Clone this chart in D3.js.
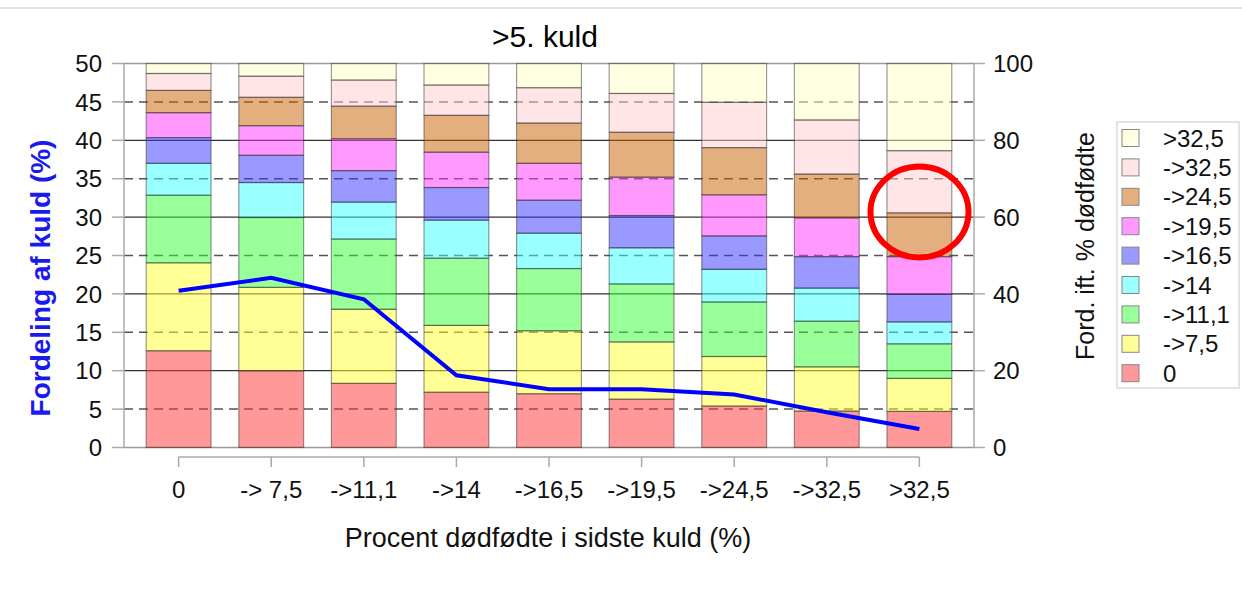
<!DOCTYPE html>
<meta charset="utf-8">
<style>
  body { margin: 0; background: #fff; }
  svg { font-family: "Liberation Sans", Arial, sans-serif; }
  .tick-label { font-size: 24px; fill: #111; }
  .grid-solid { stroke: #333; stroke-width: 1.2; }
  .grid-dash { stroke: #555; stroke-width: 1.5; stroke-dasharray: 9,6; }
  .grid-edge { stroke: #999; stroke-width: 1.5; }
  .axis-line { stroke: #aaa; stroke-width: 1.5; fill: none; }
</style>
<svg width="1242" height="609"></svg>
<script src="https://d3js.org/d3.v7.min.js"></script>
<script>

var categories = ["0", "-> 7,5", "->11,1", "->14", "->16,5", "->19,5", "->24,5", "->32,5", ">32,5"];
var seriesNames = ["0", "->7,5", "->11,1", "->14", "->16,5", "->19,5", "->24,5", "->32,5", ">32,5"];
var seriesColors = ["#ff3333", "#ffff2d", "#33ff33", "#33ffff", "#3333ff", "#ff33ff", "#c75f00", "#ffcbcb", "#ffffc5"];

// share of litters (% of 100) per stillbirth class, bottom to top
var s0 = [25.2, 20.0, 16.7, 14.4, 14.0, 12.6, 10.8, 9.5, 9.4];
var s1 = [22.9, 21.7, 19.3, 17.4, 16.4, 14.9, 12.9, 11.5, 8.6];
var s2 = [17.6, 18.2, 18.3, 17.5, 16.2, 15.1, 14.2, 11.9, 9.0];
var s3 = [8.3, 9.1, 9.6, 9.9, 9.2, 9.4, 8.5, 8.6, 5.7];
var s4 = [6.7, 7.1, 8.2, 8.5, 8.6, 8.4, 8.7, 8.2, 7.2];
var s5 = [6.5, 7.7, 8.3, 9.2, 9.6, 10.0, 10.7, 10.1, 9.8];
var s6 = [5.8, 7.4, 8.5, 9.6, 10.5, 11.7, 12.3, 11.4, 11.4];
var s7 = [4.4, 5.5, 6.8, 7.9, 9.2, 10.1, 11.8, 14.1, 16.2];
var s8 = [2.6, 3.3, 4.3, 5.6, 6.3, 7.8, 10.1, 14.7, 22.7];

// distribution of litters (left axis)
var lineValues = [20.4, 22.1, 19.3, 9.4, 7.6, 7.6, 6.9, 4.6, 2.4];

var leftTicks = [0, 5, 10, 15, 20, 25, 30, 35, 40, 45, 50];
var rightTicks = [0, 20, 40, 60, 80, 100];

var svg = d3.select("svg");

var plotLeft = 124, plotRight = 974, plotTop = 63.5, plotBottom = 447.5;

var x = d3.scaleBand()
    .domain(categories)
    .range([plotLeft, plotRight])
    .paddingInner(0.3)
    .paddingOuter(0.24);
var yL = d3.scaleLinear().domain([0, 50]).range([plotBottom, plotTop]);
var yR = d3.scaleLinear().domain([0, 100]).range([plotBottom, plotTop]);

// top rule
svg.append("line")
    .attr("x1", 0).attr("x2", 1242).attr("y1", 8).attr("y2", 8)
    .attr("stroke", "#d8d8d8").attr("stroke-width", 1.5);

// grid
svg.append("g").selectAll("line")
    .data(leftTicks)
    .enter().append("line")
    .attr("class", function(d) {
      if (d == 0 || d == 50) return "grid-edge";
      return d % 10 == 0 ? "grid-solid" : "grid-dash";
    })
    .attr("x1", plotLeft).attr("x2", plotRight)
    .attr("y1", function(d) { return yL(d); })
    .attr("y2", function(d) { return yL(d); });

// left axis
var gl = svg.append("g");
gl.append("line").attr("class", "axis-line")
    .attr("x1", plotLeft).attr("x2", plotLeft).attr("y1", yL(50)).attr("y2", yL(0));
gl.selectAll(".tk").data(leftTicks).enter().append("line")
    .attr("class", "axis-line")
    .attr("x1", plotLeft - 12).attr("x2", plotLeft)
    .attr("y1", function(d) { return yL(d); })
    .attr("y2", function(d) { return yL(d); });
gl.selectAll("text").data(leftTicks).enter().append("text")
    .attr("class", "tick-label")
    .attr("x", 102)
    .attr("y", function(d) { return yL(d); })
    .attr("dy", "0.36em")
    .attr("text-anchor", "end")
    .text(function(d) { return d; });

// right axis
var gr = svg.append("g");
gr.append("line").attr("class", "axis-line")
    .attr("x1", plotRight).attr("x2", plotRight).attr("y1", yR(100)).attr("y2", yR(0));
gr.selectAll(".tk").data(rightTicks).enter().append("line")
    .attr("class", "axis-line")
    .attr("x1", plotRight).attr("x2", plotRight + 11)
    .attr("y1", function(d) { return yR(d); })
    .attr("y2", function(d) { return yR(d); });
gr.selectAll("text").data(rightTicks).enter().append("text")
    .attr("class", "tick-label")
    .attr("x", 993)
    .attr("y", function(d) { return yR(d); })
    .attr("dy", "0.36em")
    .text(function(d) { return d; });

// stacked bars
var seriesData = [s0, s1, s2, s3, s4, s5, s6, s7, s8];
var table = categories.map(function(c, i) {
  var row = { cat: c };
  seriesData.forEach(function(s, k) { row[k] = s[i]; });
  return row;
});
var stack = d3.stack().keys(d3.range(seriesData.length))(table);

svg.append("g").selectAll("g")
    .data(stack)
    .enter().append("g")
    .attr("fill", function(d, k) { return seriesColors[k]; })
    .selectAll("rect")
    .data(function(d) { return d; })
    .enter().append("rect")
    .attr("x", function(d) { return x(d.data.cat); })
    .attr("width", x.bandwidth())
    .attr("y", function(d) { return yR(d[1]); })
    .attr("height", function(d) { return yR(d[0]) - yR(d[1]); })
    .attr("fill-opacity", 0.5)
    .attr("stroke", "#222")
    .attr("stroke-opacity", 0.45)
    .attr("stroke-width", 1.2);

// line
var line = d3.line()
    .x(function(d, i) { return x(categories[i]) + x.bandwidth() / 2; })
    .y(function(d) { return yL(d); });
svg.append("path")
    .datum(lineValues)
    .attr("d", line)
    .attr("fill", "none")
    .attr("stroke", "#0000ff")
    .attr("stroke-width", 4);

// x axis (separate ruler below plot)
var cx = function(c) { return x(c) + x.bandwidth() / 2; };
var gx = svg.append("g");
gx.append("line").attr("class", "axis-line")
    .attr("x1", cx(categories[0])).attr("x2", cx(categories[categories.length - 1]))
    .attr("y1", 457).attr("y2", 457);
gx.selectAll(".tk").data(categories).enter().append("line")
    .attr("class", "axis-line")
    .attr("x1", cx).attr("x2", cx)
    .attr("y1", 457).attr("y2", 467);
gx.selectAll("text").data(categories).enter().append("text")
    .attr("class", "tick-label")
    .attr("x", cx)
    .attr("y", 498)
    .attr("text-anchor", "middle")
    .text(function(d) { return d; });

// titles
svg.append("text")
    .attr("x", 545).attr("y", 47)
    .attr("text-anchor", "middle")
    .style("font-size", "30px")
    .text(">5. kuld");
svg.append("text")
    .attr("x", 548).attr("y", 547)
    .attr("text-anchor", "middle")
    .style("font-size", "27px")
    .attr("fill", "#111")
    .text("Procent dødfødte i sidste kuld (%)");
svg.append("text")
    .attr("transform", "translate(40,278) rotate(-90)")
    .attr("text-anchor", "middle")
    .attr("dy", "0.36em")
    .style("font-size", "28px")
    .style("font-weight", "bold")
    .attr("fill", "#1a1aee")
    .text("Fordeling af kuld (%)");
svg.append("text")
    .attr("transform", "translate(1085,246) rotate(-90)")
    .attr("text-anchor", "middle")
    .attr("dy", "0.36em")
    .style("font-size", "25px")
    .attr("fill", "#111")
    .text("Ford. ift. % dødfødte");

// legend
var lg = svg.append("g");
lg.append("rect")
    .attr("x", 1117).attr("y", 122).attr("width", 122).attr("height", 266)
    .attr("fill", "#fff").attr("stroke", "#d0d0d0").attr("stroke-width", 1.2);
var legendOrder = d3.range(seriesNames.length).reverse();
var li = lg.selectAll(".item").data(legendOrder).enter().append("g")
    .attr("transform", function(d, i) { return "translate(1122," + (138 + i * 29.4) + ")"; });
li.append("rect")
    .attr("x", 0).attr("y", -8.5).attr("width", 17).attr("height", 17)
    .attr("fill", function(k) { return seriesColors[k]; })
    .attr("fill-opacity", 0.5)
    .attr("stroke", "#888").attr("stroke-width", 1);
li.append("text")
    .attr("class", "tick-label")
    .attr("x", 41)
    .attr("dy", "0.36em")
    .text(function(k) { return seriesNames[k]; });

// red highlight ring
svg.append("ellipse")
    .attr("cx", 919.5).attr("cy", 212)
    .attr("rx", 49).attr("ry", 45.5)
    .attr("fill", "none")
    .attr("stroke", "#ff0000")
    .attr("stroke-width", 6);

</script>
